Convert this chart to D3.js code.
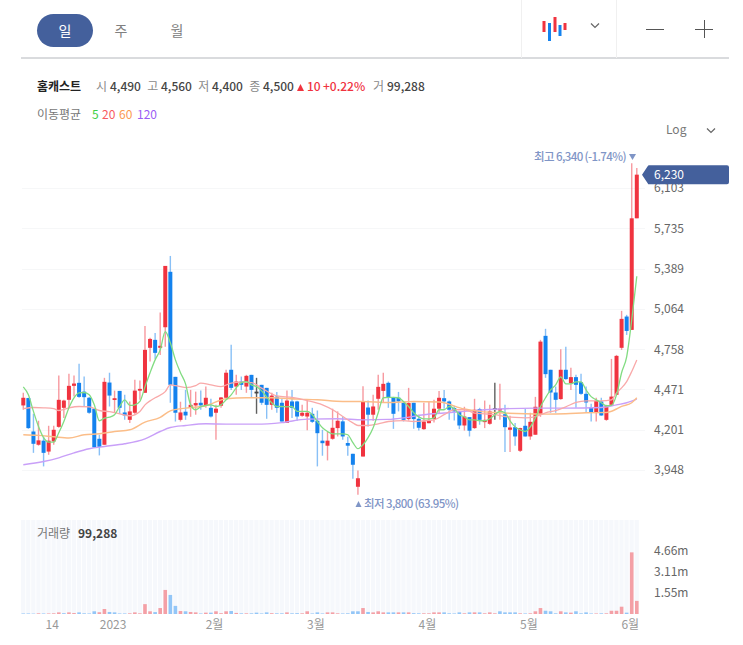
<!DOCTYPE html>
<html><head><meta charset="utf-8">
<script src="https://cdn.jsdelivr.net/npm/d3@7"></script>
<style>html,body{margin:0;padding:0;background:#fff;overflow:hidden}svg{display:block}text{font-family:"Noto Sans CJK KR","Noto Sans",sans-serif}</style>
</head><body><svg id="c" width="743" height="645"></svg>
<script>
const candleOpen=[4362,4412,4190,4105,4131,4062,4126,4220,4346,4400,4496,4517,4456,4414,4340,4143,4105,4519,4400,4461,4315,4266,4313,4463,4448,4768,4827,4768,4922,5362,4559,4266,4320,4346,4362,4380,4362,4346,4313,4360,4414,4609,4491,4526,4491,4573,4456,4503,4482,4366,4422,4380,4246,4389,4389,4293,4288,4306,4260,4131,4099,4143,4212,4256,4116,4048,3847,4031,4348,4300,4407,4461,4517,4414,4414,4380,4271,4380,4273,4205,4244,4271,4340,4411,4389,4344,4322,4229,4284,4212,4338,4251,4240,4343,4335,4303,4201,4218,4067,4227,4158,4169,4300,4857,4609,4450,4405,4609,4515,4557,4522,4441,4351,4311,4389,4266,4366,4434,4768,5004,4902,5824];
const candleHigh=[4448,4414,4306,4260,4158,4227,4227,4568,4400,4581,4568,4652,4561,4420,4345,4169,4552,4588,4463,4461,4434,4389,4538,4533,4932,4842,4879,5035,5411,5495,4559,4387,4468,4468,4456,4463,4491,4407,4366,4420,4609,4790,4573,4561,4573,4573,4552,4503,4482,4448,4454,4405,4463,4468,4393,4366,4397,4346,4328,4201,4188,4340,4322,4286,4156,4048,3945,4493,4395,4434,4573,4588,4526,4420,4454,4380,4482,4380,4300,4380,4389,4400,4461,4468,4395,4360,4322,4353,4284,4407,4346,4395,4366,4517,4510,4366,4293,4246,4214,4340,4313,4420,4827,4910,4609,4491,4758,4775,4623,4573,4580,4491,4373,4414,4414,4366,4687,4716,5048,5017,6340,6294];
const candleLow=[4333,4207,4054,4099,3970,4042,4105,4214,4279,4346,4422,4414,4355,4306,4085,4038,4105,4355,4313,4306,4266,4246,4300,4400,4448,4668,4687,4716,4775,4380,4255,4255,4266,4286,4300,4333,4346,4282,4137,4346,4414,4468,4434,4468,4448,4414,4306,4366,4273,4333,4313,4255,4246,4279,4260,4286,4198,4246,3970,4036,4007,4137,4158,4137,4036,3895,3800,4031,4222,4260,4333,4380,4346,4207,4322,4255,4261,4207,4196,4201,4244,4248,4306,4340,4266,4261,4205,4196,4158,4207,4234,4212,4234,4266,4266,4060,4060,4099,4060,4158,4137,4169,4286,4552,4313,4313,4400,4538,4468,4346,4434,4315,4255,4255,4293,4260,4366,4434,4753,4864,4902,5824];
const candleClose=[4414,4212,4111,4133,4054,4131,4201,4400,4395,4496,4512,4420,4418,4313,4088,4092,4524,4429,4411,4346,4295,4322,4463,4475,4753,4834,4731,4783,5411,4503,4313,4315,4295,4366,4378,4362,4414,4288,4340,4416,4588,4482,4526,4503,4566,4468,4456,4380,4366,4429,4346,4255,4395,4346,4288,4313,4313,4253,4179,4115,4131,4214,4260,4158,4099,3980,3898,4390,4300,4355,4489,4510,4414,4306,4389,4266,4378,4271,4214,4255,4266,4340,4414,4389,4333,4322,4229,4288,4195,4333,4266,4266,4322,4343,4340,4218,4216,4158,4212,4158,4253,4353,4814,4578,4450,4400,4609,4543,4557,4503,4441,4382,4318,4393,4295,4360,4422,4709,4986,4894,5824,6230];
const volumeMillions=[.04,.04,.03,.05,.04,.04,.05,.12,.06,.12,.07,.12,.05,.04,.2,.13,.37,.15,.12,.04,.04,.05,.12,.05,.73,.2,.14,.44,1.78,1.41,.6,.22,.2,.15,.12,.04,.1,.1,.2,.06,.2,.22,.08,.05,.05,.05,.1,.04,.12,.06,.05,.05,.12,.05,.06,.05,.2,.04,.12,.04,.12,.12,.05,.04,.05,.2,.2,.44,.15,.12,.2,.12,.12,.12,.12,.12,.12,.06,.05,.05,.05,.12,.12,.12,.05,.04,.12,.05,.12,.12,.12,.05,.12,.05,.2,.12,.12,.12,.05,.04,.05,.2,.44,.24,.2,.05,.2,.12,.1,.2,.05,.12,.04,.04,.05,.05,.24,.24,.54,.1,4.56,.97];
const ma5=[4489,4434,4322,4222,4150,4122,4122,4182,4255,4346,4414,4448,4450,4434,4366,4260,4277,4284,4300,4355,4400,4362,4366,4389,4489,4588,4680,4753,4889,4805,4680,4588,4510,4366,4333,4353,4362,4366,4355,4366,4400,4434,4482,4519,4526,4503,4491,4461,4420,4380,4355,4355,4353,4355,4322,4322,4322,4300,4255,4214,4190,4175,4175,4175,4169,4118,4080,4105,4150,4214,4313,4414,4416,4416,4414,4387,4355,4313,4286,4273,4273,4279,4333,4333,4355,4340,4300,4286,4266,4266,4260,4260,4273,4300,4322,4313,4260,4220,4201,4190,4220,4279,4353,4414,4468,4503,4559,4510,4510,4524,4524,4468,4422,4400,4380,4360,4363,4434,4588,4702,4978,5325];
const ma20=[[0,4340],[2,4348],[4,4346],[6,4340],[7,4328],[9,4346],[11,4355],[13,4353],[15,4328],[17,4320],[19,4306],[21,4293],[23,4322],[24,4366],[25,4393],[26,4414],[28,4456],[29,4503],[30,4498],[32,4484],[34,4498],[35,4515],[37,4503],[39,4491],[41,4515],[43,4522],[45,4519],[47,4480],[50,4427],[53,4416],[56,4395],[59,4366],[61,4333],[63,4288],[65,4246],[66,4229],[68,4229],[70,4240],[72,4255],[75,4261],[77,4255],[79,4260],[81,4266],[83,4300],[85,4333],[87,4333],[89,4311],[91,4306],[93,4300],[95,4288],[97,4282],[99,4279],[101,4288],[103,4313],[105,4328],[107,4353],[109,4382],[111,4393],[114,4393],[116,4400],[117,4448],[118,4482],[119,4526],[120,4597],[121,4680]];
const ma60=[[0,4169],[3,4165],[6,4156],[9,4148],[12,4169],[15,4175],[18,4190],[21,4201],[24,4251],[27,4282],[29,4326],[32,4344],[36,4360],[40,4407],[44,4414],[49,4414],[54,4405],[58,4400],[63,4389],[67,4389],[72,4382],[77,4389],[82,4385],[87,4338],[90,4322],[95,4311],[99,4306],[103,4304],[107,4306],[111,4313],[115,4315],[117,4338],[118,4355],[120,4380],[121,4414]];
const ma120=[[0,3980],[4,4000],[7,4023],[10,4054],[13,4080],[16,4094],[20,4111],[24,4143],[27,4190],[29,4216],[32,4229],[36,4240],[40,4238],[46,4238],[51,4248],[56,4271],[62,4273],[67,4266],[72,4269],[75,4279],[79,4300],[83,4311],[87,4322],[91,4333],[95,4340],[101,4344],[107,4344],[114,4348],[117,4366],[119,4380],[121,4405]];
const priceTicks=[3948,4201,4471,4758,5064,5389,5735,6103];
const volumeTicks=[1.55,3.11,4.66];
const dateTickIndex=[6,18,38,58,80,100,120];
const dateTickLabels=["14","2023","2월","3월","4월","5월","6월"];
const quoteParts=[["시","4,490"],["고","4,560"],["저","4,400"],["종","4,500"]];
const tabs=["일","주","월"];
const maLegend=[["5","#3ecf45"],["20","#f85a60"],["60","#fb9a50"],["120","#9a5cf5"]];

const RED="#f0333f",BLUE="#1482ee",NAVY="#44609c";
const svg=d3.select("#c");
const n=candleClose.length;
const x=d3.scaleLinear().domain([0,n-1]).range([23.3,636.8]);
const y=d3.scaleLog().domain([3948,6103]).range([470,188]);
const yv=d3.scaleLinear().domain([0,4.66]).range([614,551]);

// ---- toolbar
svg.append("rect").attr("x",37).attr("y",14).attr("width",56).attr("height",33).attr("rx",16.5).attr("fill",NAVY);
svg.selectAll(".tab").data(tabs).join("text").attr("x",(d,i)=>65+56*i).attr("y",31).attr("dy","0.36em")
  .attr("text-anchor","middle").attr("font-size",14).attr("fill",(d,i)=>i?"#808080":"#fff").text(d=>d);
svg.append("line").attr("x1",21).attr("x2",729).attr("y1",58).attr("y2",58).attr("stroke","#b4b7bc").attr("stroke-width",1);
[521,616].forEach(v=>svg.append("line").attr("x1",v+.5).attr("x2",v+.5).attr("y1",0).attr("y2",58).attr("stroke","#f0f0f0"));
const icon=[[544,21,32,RED],[549.5,23,41,BLUE],[555,17,32,RED],[560,25,36,BLUE],[565,23,30,RED]];
icon.forEach(b=>svg.append("rect").attr("x",b[0]-1.5).attr("y",b[1]).attr("width",3).attr("height",b[2]-b[1]).attr("fill",b[3]));
function chevron(cx,cy){svg.append("path").attr("d",`M${cx-4},${cy-2.5}L${cx},${cy+1.5}L${cx+4},${cy-2.5}`).attr("fill","none").attr("stroke","#666").attr("stroke-width",1.2);}
chevron(595,26);chevron(711,131);
svg.append("line").attr("x1",646).attr("x2",664).attr("y1",29.5).attr("y2",29.5).attr("stroke","#555");
svg.append("line").attr("x1",695).attr("x2",713).attr("y1",29.5).attr("y2",29.5).attr("stroke","#555");
svg.append("line").attr("x1",704.5).attr("x2",704.5).attr("y1",20).attr("y2",38).attr("stroke","#555");

// ---- header
const hdr=(tx,ty,t,fill,weight,ls)=>svg.append("text").attr("x",tx).attr("y",ty).attr("dy","0.36em").attr("font-size",12).attr("fill",fill).attr("font-weight",weight||400).attr("letter-spacing",ls||0).text(t);
hdr(37,87,"홈캐스트","#222",700,0);
quoteParts.forEach((p,i)=>{hdr(96+51*i+(i?0.3:0),87,p[0],"#8a8a8a");hdr(110+51*i,87,p[1],"#444",500);});
svg.append("path").attr("d","M297,91L304,91L300.5,84Z").attr("fill",RED);
hdr(307,87,"10",RED,500);hdr(323,87,"+0.22%",RED,500);
hdr(373,87,"거","#8a8a8a");hdr(387,87,"99,288","#444",500);
hdr(37,115,"이동평균","#777");
let lx=[92,102,119,137];
maLegend.forEach((m,i)=>hdr(lx[i],115,m[0],m[1]));
hdr(666,130,"Log","#777");

// ---- grid
svg.append("g").selectAll("line").data(priceTicks).join("line").attr("x1",22).attr("x2",645)
  .attr("y1",d=>Math.round(y(d))+.5).attr("y2",d=>Math.round(y(d))+.5).attr("stroke","#f6f7f8");

// ---- volume pane background
svg.append("g").selectAll("rect").data(d3.range(n)).join("rect").attr("x",i=>x(i)-2.2).attr("y",520)
  .attr("width",4.2).attr("height",94).attr("fill","#f6f8fc");
svg.append("g").selectAll("rect").data(volumeMillions).join("rect")
  .attr("x",(d,i)=>x(i)-1.8).attr("width",3.6).attr("y",d=>yv(d)).attr("height",d=>yv(0)-yv(d))
  .attr("fill",(d,i)=>(i&&candleClose[i]>=candleClose[i-1])?"#f4a0a6":"#93c6f7");

// ---- candles
const colorOf=i=>candleClose[i]>candleOpen[i]?RED:candleClose[i]<candleOpen[i]?BLUE:"#444";
const g=svg.append("g");
g.selectAll("line").data(d3.range(n)).join("line").attr("x1",i=>x(i)).attr("x2",i=>x(i))
  .attr("y1",i=>y(candleHigh[i])).attr("y2",i=>y(candleLow[i])).attr("stroke",colorOf).attr("stroke-width",1.4)
  .attr("stroke-opacity",i=>candleClose[i]===candleOpen[i]?.85:.5);
g.selectAll("rect").data(d3.range(n)).join("rect").attr("x",i=>x(i)-2).attr("width",4)
  .attr("y",i=>y(Math.max(candleOpen[i],candleClose[i])))
  .attr("height",i=>Math.max(1.8,Math.abs(y(candleOpen[i])-y(candleClose[i])))).attr("fill",colorOf);

// ---- moving averages
const lineP=d3.line().x(d=>x(d[0])).y(d=>y(d[1])).curve(d3.curveMonotoneX);
const addMA=(pts,c,w)=>svg.append("path").datum(pts).attr("d",lineP).attr("fill","none").attr("stroke",c).attr("stroke-width",w);
addMA(ma120,"#c9a0f8",1.4);
addMA(ma60,"#fbbd88",1.4);
addMA(ma20,"#f9a9a9",1.3);
addMA(ma5.map((v,i)=>[i,v]),"#82dc82",1.3);

// ---- axes
const yAxis=d3.axisRight(y).tickValues(priceTicks).tickSize(0).tickPadding(0).tickFormat(d3.format(","));
const ya=svg.append("g").attr("transform","translate(654,0)").call(yAxis);
ya.select(".domain").remove();
ya.selectAll("text").attr("font-size",12).attr("font-family",'"Noto Sans CJK KR"').attr("fill","#666");
const yvAxis=d3.axisRight(yv).tickValues(volumeTicks).tickSize(0).tickPadding(0).tickFormat(d=>d+"m");
const yb=svg.append("g").attr("transform","translate(654,0)").call(yvAxis);
yb.select(".domain").remove();
yb.selectAll("text").attr("font-size",12).attr("font-family",'"Noto Sans CJK KR"').attr("fill","#666");
const xAxis=d3.axisBottom(x).tickValues(dateTickIndex).tickSize(0).tickPadding(0).tickFormat((d,i)=>dateTickLabels[i]);
const xa=svg.append("g").attr("transform","translate(-2,620)").call(xAxis);
xa.select(".domain").remove();
xa.selectAll("text").attr("font-size",12).attr("font-family",'"Noto Sans CJK KR"').attr("fill","#999");

// ---- labels
const lastY=y(candleClose[n-1]);
svg.append("path").attr("d",`M642,${lastY}L648,${lastY-9}L648,${lastY-9}Q648,${lastY-9.5} 649,${lastY-9.5}L727,${lastY-9.5}Q729,${lastY-9.5} 729,${lastY-7.5}L729,${lastY+7.5}Q729,${lastY+9.5} 727,${lastY+9.5}L649,${lastY+9.5}Q648,${lastY+9.5} 648,${lastY+9}Z`).attr("fill",NAVY);
svg.append("text").attr("x",654).attr("y",lastY).attr("dy","0.36em").attr("font-size",12).attr("fill","#fff").text("6,230");
const hlColor="#7f95c6";
svg.append("text").attr("x",534).attr("y",y(6340)-6).attr("dy","0.36em").attr("font-size",11.5).attr("font-weight",500).attr("letter-spacing",-0.6).attr("fill",hlColor).text("최고 6,340 (-1.74%)");
svg.append("path").attr("d","M629,154L636,154L632.5,160Z").attr("fill",hlColor);
svg.append("path").attr("d","M355.5,507L361.5,507L358.5,501Z").attr("fill",hlColor);
svg.append("text").attr("x",364).attr("y",503.5).attr("dy","0.36em").attr("font-size",11.5).attr("font-weight",500).attr("letter-spacing",-0.6).attr("fill",hlColor).text("최저 3,800 (63.95%)");
hdr(37,534,"거래량","#777");
hdr(78,534,"99,288","#444",700);
</script></body></html>
